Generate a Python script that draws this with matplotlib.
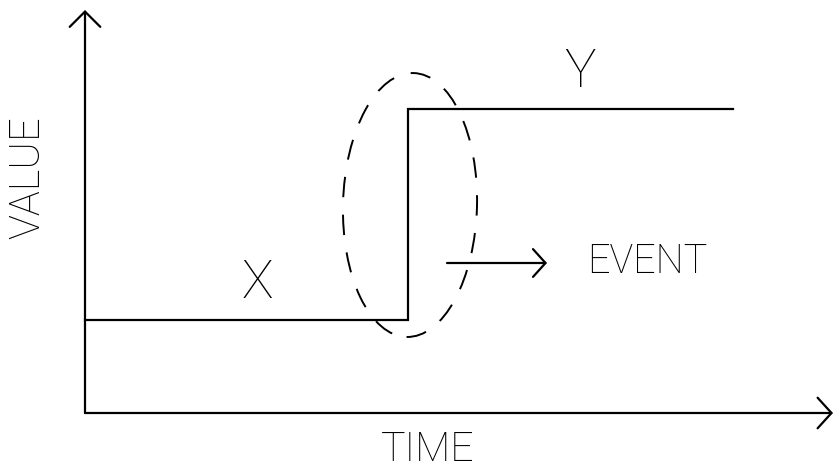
import numpy as np
from matplotlib import pyplot as plt
from matplotlib.patches import Ellipse

# step signal: value X before the event, value Y after it
time = [0, 323, 323, 648]
value = [93, 93, 304, 304]
level_names = ["X", "Y"]
level_pos = [(172, 130), (495, 341)]

# dashed ring round the step
event_center = (325, 208)
event_size = (134, 264)
event_tilt = -1.5
event_arrow = [(362, 150), (462, 150)]
event_label = "EVENT"
event_label_pos = (562, 151)

axis_ends = [(748, 0), (0, 403)]
xlabel = "TIME"
ylabel = "VALUE"

lw = 1.6
fnt = dict(family=["Roboto", "DejaVu Sans"], weight="light", color="black")

fig = plt.figure(figsize=(8.37, 4.73), dpi=100)
ax = fig.add_axes([0, 0, 1, 1])
ax.set_xlim(-85, 752)
ax.set_ylim(-60, 413)
ax.axis("off")

def arrow(start, end, hl, hw):
    ax.annotate("", xy=end, xytext=start,
                arrowprops=dict(arrowstyle="->,head_length=%g,head_width=%g" % (hl, hw),
                                lw=lw, color="black", shrinkA=0, shrinkB=0))

# axes with open arrowheads
arrow((0, 0), axis_ends[0], 1.0, 1.1)
arrow((0, 0), axis_ends[1], 1.1, 1.1)

ax.plot(time, value, color="black", lw=lw, solid_joinstyle="miter")

ax.add_patch(Ellipse(event_center, event_size[0], event_size[1], angle=event_tilt,
                     fill=False, edgecolor="black", lw=1.4, linestyle=(0, (10.5, 9))))
arrow(event_arrow[0], event_arrow[1], 0.9, 1.0)

for name, pos in zip(level_names, level_pos):
    ax.text(pos[0], pos[1], name, fontsize=38, ha="center", va="center", **fnt)
ax.text(event_label_pos[0], event_label_pos[1], event_label, fontsize=28.5,
        ha="center", va="center", **fnt)
ax.text(343, -37, xlabel, fontsize=29.5, ha="center", va="center", **fnt)
ax.text(-57, 235, ylabel, fontsize=30, ha="center", va="center",
        rotation=90, **fnt)

fig.savefig("out.png", dpi=100, facecolor="white")
